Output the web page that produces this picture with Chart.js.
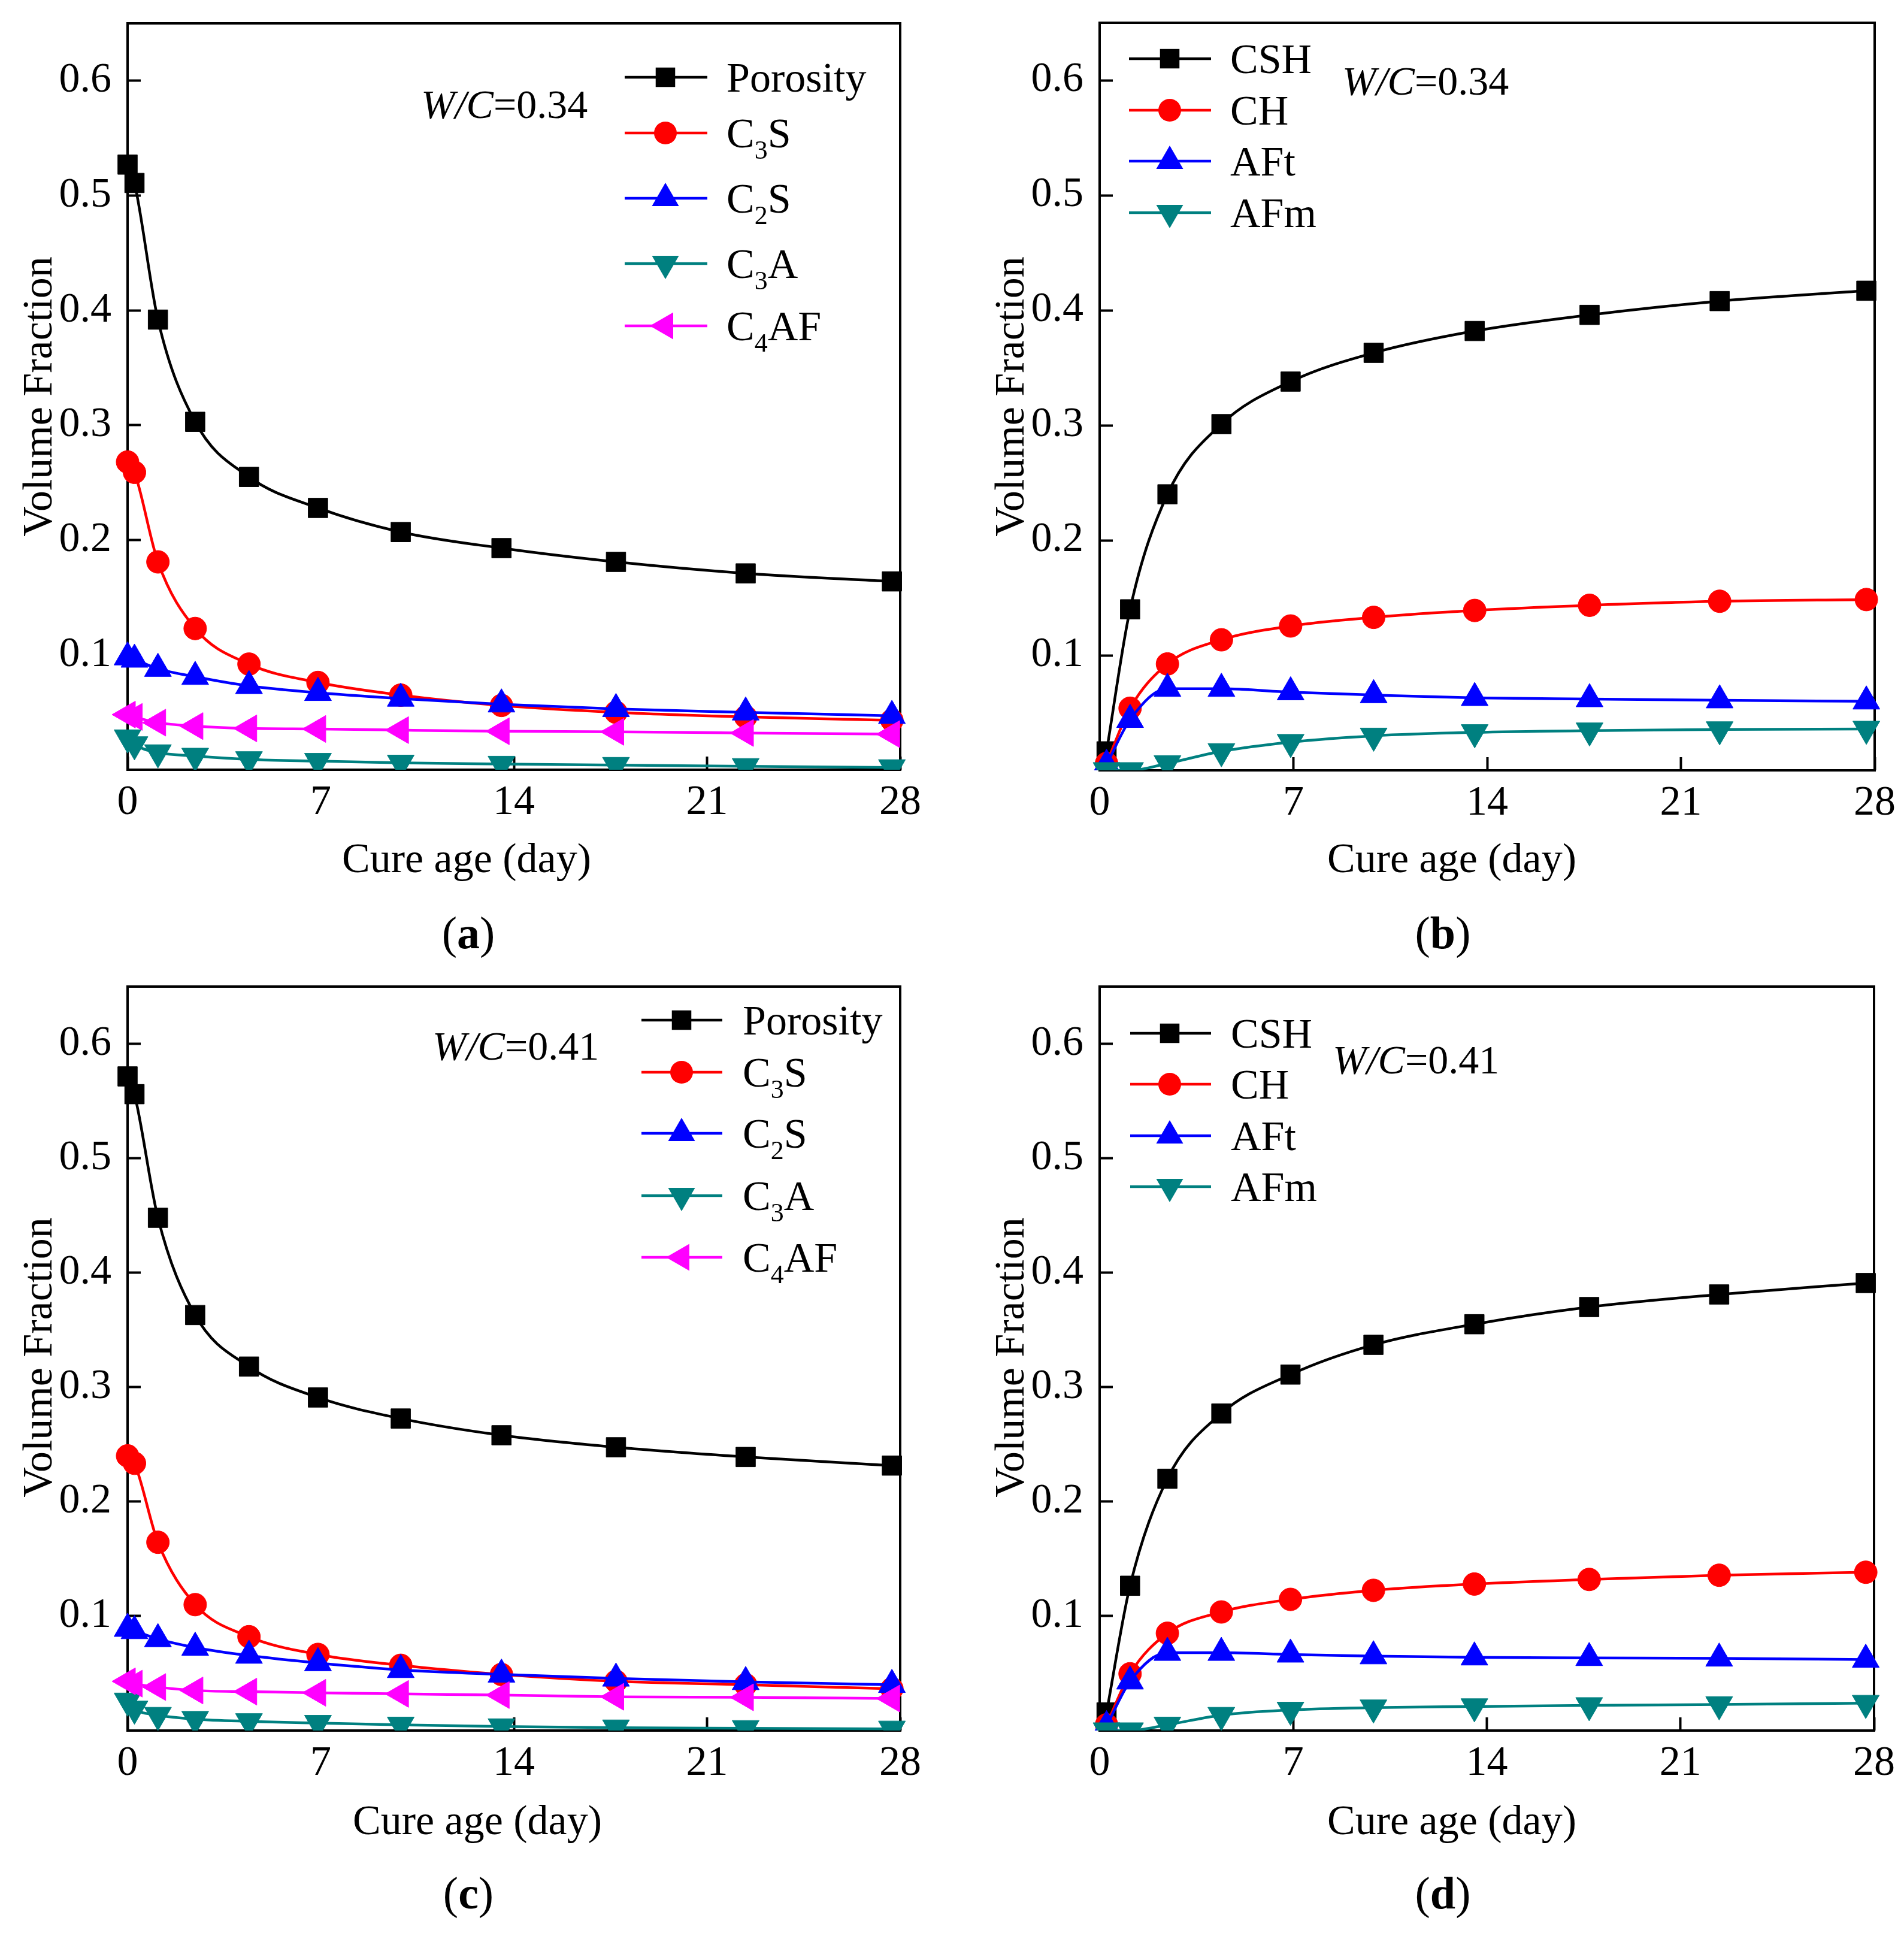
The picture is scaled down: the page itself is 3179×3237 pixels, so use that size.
<!DOCTYPE html>
<html>
<head>
<meta charset="utf-8">
<script src="https://cdn.jsdelivr.net/npm/chart.js@4.4.1/dist/chart.umd.min.js"></script>
<style>
  html, body { margin: 0; padding: 0; background: #fff; }
  #wrap { position: relative; width: 3179px; height: 3237px; background: #fff; }
  #wrap canvas { position: absolute; }
</style>
</head>
<body>
<div id="wrap">
  <canvas id="pa" width="1590" height="1620" style="left:0px;top:0px"></canvas>
  <canvas id="pb" width="1589" height="1620" style="left:1590px;top:0px"></canvas>
  <canvas id="pc" width="1590" height="1617" style="left:0px;top:1620px"></canvas>
  <canvas id="pd" width="1589" height="1617" style="left:1590px;top:1620px"></canvas>
</div>
<script>
// ---- data ----
const clinkerDays = [0, 0.25, 1.1, 2.45, 4.4, 6.9, 9.9, 13.55, 17.7, 22.4, 27.7];
const hydrateDays = [0.25, 1.1, 2.45, 4.4, 6.9, 9.9, 13.55, 17.7, 22.4, 27.7];
const xTicks = [0, 7, 14, 21, 28];
const yTicks = [0.1, 0.2, 0.3, 0.4, 0.5, 0.6];

// (a) W/C = 0.34, clinker phases
const porosity034 = [0.527, 0.511, 0.392, 0.303, 0.255, 0.228, 0.207, 0.193, 0.181, 0.171, 0.164];
const c3s034  = [0.268, 0.259, 0.181, 0.123, 0.092, 0.076, 0.065, 0.056, 0.050, 0.046, 0.043];
const c2s034  = [0.098, 0.096, 0.088, 0.081, 0.073, 0.067, 0.062, 0.057, 0.053, 0.050, 0.047];
const c3a034  = [0.028, 0.022, 0.015, 0.012, 0.009, 0.0075, 0.006, 0.005, 0.004, 0.003, 0.002];
const c4af034 = [0.048, 0.046, 0.041, 0.038, 0.036, 0.0355, 0.0345, 0.0335, 0.033, 0.032, 0.031];

// (b) W/C = 0.34, hydration products
const csh034 = [0.0165, 0.140, 0.240, 0.301, 0.338, 0.363, 0.382, 0.396, 0.408, 0.417];
const ch034  = [0.006, 0.054, 0.0925, 0.1135, 0.1255, 0.133, 0.139, 0.1435, 0.147, 0.1485];
const aft034 = [0.005, 0.044, 0.071, 0.071, 0.068, 0.0655, 0.063, 0.062, 0.061, 0.060];
const afm034 = [0, 0, 0.006, 0.0165, 0.0245, 0.030, 0.033, 0.0345, 0.0355, 0.036];

// (c) W/C = 0.41, clinker phases
const porosity041 = [0.5715, 0.556, 0.448, 0.363, 0.318, 0.291, 0.2726, 0.258, 0.2475, 0.239, 0.2315];
const c3s041  = [0.240, 0.2335, 0.1645, 0.110, 0.082, 0.0665, 0.057, 0.049, 0.043, 0.040, 0.0365];
const c2s041  = [0.089, 0.087, 0.080, 0.0725, 0.0655, 0.059, 0.053, 0.049, 0.0455, 0.0425, 0.040];
const c3a041  = [0.026, 0.019, 0.0135, 0.010, 0.008, 0.0065, 0.005, 0.0035, 0.0025, 0.002, 0.0015];
const c4af041 = [0.043, 0.041, 0.038, 0.035, 0.034, 0.033, 0.032, 0.031, 0.0295, 0.029, 0.028];

// (d) W/C = 0.41, hydration products
const csh041 = [0.0158, 0.1265, 0.220, 0.277, 0.311, 0.337, 0.355, 0.370, 0.381, 0.391];
const ch041  = [0.005, 0.0496, 0.085, 0.1036, 0.1146, 0.1225, 0.128, 0.132, 0.1357, 0.1383];
const aft041 = [0.004, 0.043, 0.068, 0.068, 0.0665, 0.065, 0.064, 0.0635, 0.063, 0.062];
const afm041 = [0, 0, 0.005, 0.0135, 0.018, 0.020, 0.021, 0.022, 0.0228, 0.024];

// ---- styles ----
const FONT = '"Liberation Serif", "Times New Roman", serif';
const LINE_W = 4.5;
const look = {
  black:   { color: '#000000', style: 'rect',     rot: 0,   r: 23 },
  red:     { color: '#ff0000', style: 'circle',   rot: 0,   r: 19 },
  blue:    { color: '#0000ff', style: 'triangle', rot: 0,   r: 26 },
  teal:    { color: '#008080', style: 'triangle', rot: 180, r: 26 },
  magenta: { color: '#ff00ff', style: 'triangle', rot: -90, r: 26 }
};

const clinkerSeries = (p, c3s, c2s, c3a, c4af) => [
  { name: 'Porosity', x: clinkerDays, y: p,    look: look.black },
  { name: 'C3S',      x: clinkerDays, y: c3s,  look: look.red },
  { name: 'C2S',      x: clinkerDays, y: c2s,  look: look.blue },
  { name: 'C3A',      x: clinkerDays, y: c3a,  look: look.teal },
  { name: 'C4AF',     x: clinkerDays, y: c4af, look: look.magenta }
];
const hydrateSeries = (csh, ch, aft, afm) => [
  { name: 'CSH', x: hydrateDays, y: csh, look: look.black },
  { name: 'CH',  x: hydrateDays, y: ch,  look: look.red },
  { name: 'AFt', x: hydrateDays, y: aft, look: look.blue },
  { name: 'AFm', x: hydrateDays, y: afm, look: look.teal }
];

const panels = [
  { id: 'pa', letter: 'a', ratio: '0.34',
    box: { x: 0, y: 0, w: 1590, h: 1620 }, area: { L: 213, T: 39, R: 1503, B: 1285 },
    wc: { x: 703, y: 197 }, xTitle: { x: 779, y: 1456 }, yTitle: { x: 86, y: 662 }, tag: { x: 782, y: 1583 },
    legend: { x1: 1043, x2: 1181, mx: 1111, tx: 1213, rows: [129, 222, 331, 440, 544] },
    series: clinkerSeries(porosity034, c3s034, c2s034, c3a034, c4af034) },
  { id: 'pb', letter: 'b', ratio: '0.34',
    box: { x: 1590, y: 0, w: 1589, h: 1620 }, area: { L: 1836, T: 38, R: 3130, B: 1286 },
    wc: { x: 2241, y: 158 }, xTitle: { x: 2424, y: 1456 }, yTitle: { x: 1709, y: 662 }, tag: { x: 2409, y: 1583 },
    legend: { x1: 1885, x2: 2022, mx: 1953, tx: 2054, rows: [98, 184, 269, 355] },
    series: hydrateSeries(csh034, ch034, aft034, afm034) },
  { id: 'pc', letter: 'c', ratio: '0.41',
    box: { x: 0, y: 1620, w: 1590, h: 1617 }, area: { L: 213, T: 1643, R: 1503, B: 2889 },
    wc: { x: 722, y: 1769 }, xTitle: { x: 797, y: 3062 }, yTitle: { x: 86, y: 2266 }, tag: { x: 782, y: 3186 },
    legend: { x1: 1071, x2: 1206, mx: 1138, tx: 1240, rows: [1703, 1790, 1892, 1996, 2099] },
    series: clinkerSeries(porosity041, c3s041, c2s041, c3a041, c4af041) },
  { id: 'pd', letter: 'd', ratio: '0.41',
    box: { x: 1590, y: 1620, w: 1589, h: 1617 }, area: { L: 1836, T: 1643, R: 3129, B: 2889 },
    wc: { x: 2225, y: 1792 }, xTitle: { x: 2424, y: 3062 }, yTitle: { x: 1709, y: 2266 }, tag: { x: 2409, y: 3186 },
    legend: { x1: 1887, x2: 2022, mx: 1953, tx: 2055, rows: [1725, 1810, 1896, 1981] },
    series: hydrateSeries(csh041, ch041, aft041, afm041) }
];

// ---- drawing helpers ----
function marker(ctx, lk, x, y) {
  ctx.fillStyle = lk.color;
  ctx.beginPath();
  if (lk.style === 'rect') {
    const s = lk.r * Math.SQRT1_2;
    ctx.rect(x - s, y - s, 2 * s, 2 * s);
  } else if (lk.style === 'circle') {
    ctx.arc(x, y, lk.r, 0, Math.PI * 2);
  } else {
    let a = lk.rot * Math.PI / 180;
    ctx.moveTo(x + Math.sin(a) * lk.r, y - Math.cos(a) * lk.r);
    for (let k = 0; k < 2; k++) {
      a += 2 * Math.PI / 3;
      ctx.lineTo(x + Math.sin(a) * lk.r, y - Math.cos(a) * lk.r);
    }
    ctx.closePath();
  }
  ctx.fill();
}

// runs: [{t, s: 'normal'|'italic'|'bold', size, dy}]
function runs(ctx, x, y, parts, align) {
  let total = 0;
  parts.forEach(p => { ctx.font = `${p.s || 'normal'} ${p.size}px ${FONT}`; p.w = ctx.measureText(p.t).width; total += p.w; });
  if (align === 'center') x -= total / 2;
  ctx.textAlign = 'left';
  ctx.textBaseline = 'alphabetic';
  ctx.fillStyle = '#000';
  parts.forEach(p => {
    ctx.font = `${p.s || 'normal'} ${p.size}px ${FONT}`;
    ctx.fillText(p.t, x, y + (p.dy || 0));
    x += p.w;
  });
}

function nameParts(name) {
  // digits in phase names are subscripts (C3S, C4AF ...)
  return name.split('').map(ch => /[0-9]/.test(ch)
    ? { t: ch, size: 44, dy: 19 }
    : { t: ch, size: 70 });
}

function overlay(panel) {
  const ox = panel.box.x, oy = panel.box.y;
  return {
    id: 'overlay_' + panel.id,
    beforeDatasetsDraw(chart) {
      const a = chart.chartArea, ctx = chart.ctx;
      ctx.save();
      ctx.strokeStyle = '#000';
      ctx.lineWidth = 4;
      ctx.strokeRect(a.left, a.top, a.right - a.left, a.bottom - a.top);
      ctx.restore();
    },
    afterDraw(chart) {
      const ctx = chart.ctx;
      ctx.save();
      // legend
      const lg = panel.legend;
      panel.series.forEach((s, i) => {
        const y = lg.rows[i] - oy;
        ctx.strokeStyle = s.look.color;
        ctx.lineWidth = LINE_W;
        ctx.beginPath();
        ctx.moveTo(lg.x1 - ox, y);
        ctx.lineTo(lg.x2 - ox, y);
        ctx.stroke();
        marker(ctx, s.look, lg.mx - ox, y);
        runs(ctx, lg.tx - ox, y + 24, nameParts(s.name));
      });
      // W/C annotation
      runs(ctx, panel.wc.x - ox, panel.wc.y - oy, [
        { t: 'W', s: 'italic', size: 68 }, { t: '/', s: 'italic', size: 68 },
        { t: 'C', s: 'italic', size: 68 }, { t: '=' + panel.ratio, size: 68 }
      ]);
      // axis titles
      runs(ctx, panel.xTitle.x - ox, panel.xTitle.y - oy, [{ t: 'Cure age (day)', size: 70 }], 'center');
      ctx.save();
      ctx.translate(panel.yTitle.x - ox, panel.yTitle.y - oy);
      ctx.rotate(-Math.PI / 2);
      runs(ctx, 0, 0, [{ t: 'Volume Fraction', size: 70 }], 'center');
      ctx.restore();
      // panel tag
      runs(ctx, panel.tag.x - ox, panel.tag.y - oy, [
        { t: '(', size: 76 }, { t: panel.letter, s: 'bold', size: 76 }, { t: ')', size: 76 }
      ], 'center');
      ctx.restore();
    }
  };
}

function makeChart(panel) {
  const box = panel.box, area = panel.area;
  const tickFont = { family: FONT, size: 70 };
  new Chart(document.getElementById(panel.id), {
    type: 'line',
    data: {
      datasets: panel.series.map((s, i) => ({
        label: s.name,
        data: s.x.map((d, k) => ({ x: d, y: s.y[k] })),
        borderColor: s.look.color,
        backgroundColor: s.look.color,
        pointBackgroundColor: s.look.color,
        pointBorderColor: s.look.color,
        pointBorderWidth: 1,
        pointStyle: s.look.style,
        pointRotation: s.look.rot,
        pointRadius: s.look.r,
        borderWidth: LINE_W,
        cubicInterpolationMode: 'monotone',
        fill: false,
        clip: { left: false, top: false, right: false, bottom: 0 },
        order: 10 - i
      }))
    },
    options: {
      responsive: false,
      animation: false,
      devicePixelRatio: 1,
      events: [],
      layout: { padding: { left: 0, top: area.T - box.y, right: box.x + box.w - area.R, bottom: 0 } },
      plugins: { legend: { display: false }, tooltip: { enabled: false } },
      scales: {
        x: {
          type: 'linear', min: 0, max: 28,
          afterBuildTicks: s => { s.ticks = xTicks.map(v => ({ value: v })); },
          afterFit: s => { s.height = box.y + box.h - area.B; s.paddingLeft = 0; s.paddingRight = 0; },
          border: { display: false },
          grid: { drawOnChartArea: false, tickLength: -22, tickWidth: 4, tickColor: '#000' },
          ticks: { font: tickFont, color: '#000', padding: 36, maxRotation: 0, autoSkip: false, callback: v => String(v) }
        },
        y: {
          type: 'linear', min: 0, max: 0.65,
          afterBuildTicks: s => { s.ticks = yTicks.map(v => ({ value: v })); },
          afterFit: s => { s.width = area.L - box.x; s.paddingTop = 0; s.paddingBottom = 0; },
          border: { display: false },
          grid: { drawOnChartArea: false, tickLength: -22, tickWidth: 4, tickColor: '#000' },
          ticks: { font: tickFont, color: '#000', padding: 49, autoSkip: false, callback: v => v.toFixed(1) }
        }
      }
    },
    plugins: [overlay(panel)]
  });
}

panels.forEach(makeChart);
</script>
</body>
</html>
